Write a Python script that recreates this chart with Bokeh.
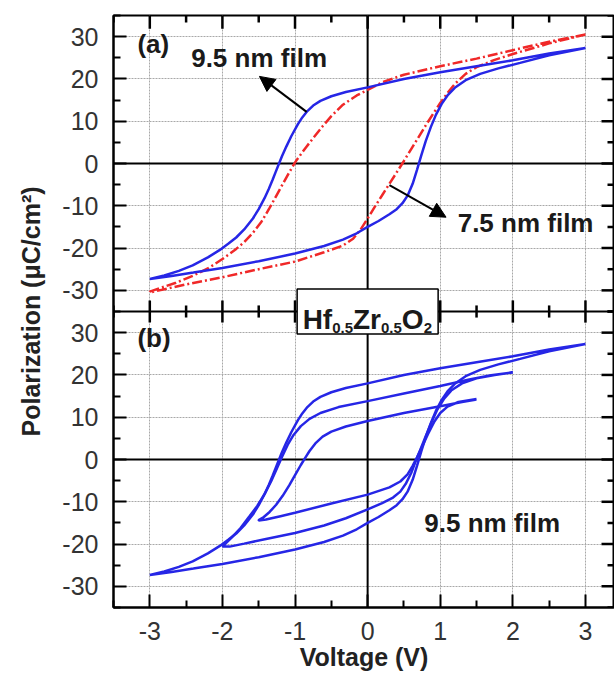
import numpy as np
from bokeh.plotting import figure
from bokeh.models import Range1d, FixedTicker, Span, Arrow, NormalHead
from bokeh.core.properties import value
from bokeh.embed import file_html
from bokeh.resources import INLINE

# ---------------- data ----------------
x_major = [-3, -2, -1, 0, 1, 2, 3]
x_minor = [-3.5, -2.5, -1.5, -0.5, 0.5, 1.5, 2.5, 3.5]
y_major = [-30, -20, -10, 0, 10, 20, 30]
y_minor = [-35, -25, -15, -5, 5, 15, 25, 35]
YLIM = 35
XLIM = (-3.5, 3.4)

# panel (a): 9.5 nm film (blue, solid) - upper branch (+3 -> -3), lower branch (-3 -> +3)
a95_up_v = [3.0, 2.5, 2.0, 1.5, 1.0, 0.5, 0.0, -0.3, -0.5, -0.65, -0.75, -0.83, -0.9, -0.96,
            -1.05, -1.12, -1.18, -1.22, -1.27, -1.31, -1.36, -1.42, -1.5, -1.58, -1.7, -1.81,
            -1.92, -2.04, -2.2, -2.41, -2.6, -2.8, -3.0]
a95_up_p = [27.3, 26.0, 24.4, 23.0, 21.6, 20.0, 18.0, 16.9, 15.9, 14.8, 13.7, 12.4, 10.9, 9.3,
            6.5, 4.0, 1.7, 0.0, -2.15, -3.9, -5.95, -8.2, -10.8, -13.0, -15.6, -17.5,
            -19.0, -20.5, -22.2, -24.1, -25.4, -26.5, -27.3]
a95_lo_v = [-3.0, -2.7, -2.4, -2.0, -1.5, -1.0, -0.6, -0.34, -0.15, 0.0, 0.15, 0.3, 0.4, 0.48,
            0.55, 0.62, 0.68, 0.74, 0.8, 0.87, 0.94, 1.02, 1.1, 1.2, 1.35, 1.55, 1.8, 2.1, 2.5,
            3.0]
a95_lo_p = [-27.3, -26.6, -25.8, -24.7, -23.1, -21.3, -19.5, -18.0, -16.5, -15.0, -13.6, -12.0,
            -10.8, -9.4, -7.6, -4.8, -1.5, 2.0, 5.3, 8.6, 11.5, 14.1, 16.1, 17.9, 19.7, 21.2,
            22.5, 23.8, 25.6, 27.3]

# panel (a): 7.5 nm film (red, dash-dot)
a75_up_v = [3.0, 2.5, 2.0, 1.5, 1.0, 0.5, 0.2, 0.0, -0.15, -0.34, -0.5, -0.62, -0.75, -0.85,
            -0.99, -1.08, -1.17, -1.26, -1.35, -1.46, -1.58, -1.7, -1.81, -2.0, -2.18, -2.4,
            -2.64, -2.85, -3.0]
a75_up_p = [30.5, 28.8, 26.8, 24.8, 23.0, 21.0, 19.2, 17.4, 16.1, 13.9, 11.2, 8.8, 6.0, 3.8,
            0.5, -2.1, -4.9, -7.7, -10.5, -13.7, -16.4, -18.6, -20.2, -22.6, -24.6, -26.5,
            -28.2, -29.4, -30.3]
a75_lo_v = [-3.0, -2.5, -2.0, -1.5, -1.0, -0.6, -0.34, -0.2, -0.1, 0.0, 0.1, 0.2, 0.3, 0.4,
            0.5, 0.6, 0.7, 0.8, 0.9, 1.0, 1.1, 1.2, 1.35, 1.5, 1.75, 2.0, 2.5, 3.0]
a75_lo_p = [-30.5, -28.6, -26.9, -25.0, -23.2, -21.0, -19.4, -17.8, -15.7, -13.0, -10.2, -7.5,
            -4.8, -2.1, 0.6, 3.4, 6.2, 9.0, 11.7, 14.3, 16.7, 18.8, 21.2, 22.8, 24.5, 25.9,
            28.4, 30.5]

# panel (b): 9.5 nm film, loops at +-3 V (same data as above), +-2 V and +-1.5 V
b2_up_v = [2.0, 1.7, 1.4, 1.0, 0.5, 0.0, -0.4, -0.65, -0.8, -0.92, -1.02, -1.1, -1.18, -1.25,
           -1.33, -1.42, -1.52, -1.63, -1.75, -1.87, -2.0]
b2_up_p = [20.6, 19.9, 18.9, 17.4, 15.6, 13.8, 12.4, 11.0, 9.6, 7.9, 5.8, 3.5, 0.6, -2.1,
           -5.2, -8.2, -11.0, -13.5, -16.2, -18.4, -20.6]
b2_lo_v = [-2.0, -1.9, -1.7, -1.4, -1.0, -0.6, -0.3, 0.0, 0.2, 0.35, 0.45, 0.53, 0.6, 0.66,
           0.73, 0.8, 0.88, 0.96, 1.05, 1.15, 1.3, 1.5, 1.75, 2.0]
b2_lo_p = [-20.6, -20.6, -19.9, -18.8, -17.4, -15.6, -13.9, -11.8, -10.3, -9.0, -7.6, -5.6,
           -3.2, -0.5, 2.5, 5.5, 8.8, 11.8, 14.3, 16.3, 18.0, 19.2, 20.0, 20.6]

b15_up_v = [1.5, 1.3, 1.0, 0.5, 0.0, -0.3, -0.5, -0.62, -0.72, -0.8, -0.86, -0.92, -0.99,
            -1.08, -1.17, -1.26, -1.35, -1.43, -1.5]
b15_up_p = [14.2, 13.6, 12.6, 11.0, 9.1, 7.8, 6.6, 5.4, 3.8, 2.0, 0.4, -1.3, -3.4,
            -6.1, -8.6, -10.7, -12.4, -13.6, -14.3]
b15_lo_v = [-1.5, -1.4, -1.2, -1.0, -0.5, 0.0, 0.3, 0.45, 0.55, 0.62, 0.68, 0.75, 0.83, 0.92,
            1.0, 1.1, 1.25, 1.5]
b15_lo_p = [-14.4, -14.2, -13.4, -12.6, -10.4, -8.3, -6.6, -5.2, -3.5, -1.5, 0.5, 3.0, 6.0,
            9.0, 11.0, 12.5, 13.6, 14.3]

# ---------------- figure ----------------
FONT = "Liberation Sans"
BLUE = "#2626e6"
RED = "#f02828"
W, H = 614, 673
LEFT, TOP, BOTTOM = 113, 15, 72          # frame borders in pixels (bottom is the axis' own size)

p = figure(width=W, height=H, output_backend="svg", toolbar_location=None,
           x_range=Range1d(*XLIM), y_range=Range1d(-2 * YLIM, 2 * YLIM),
           min_border_left=LEFT, min_border_top=TOP, min_border_right=0, min_border_bottom=0)
# panel (a) occupies the upper half of the frame, panel (b) the lower half
p.extra_y_ranges = {"a": Range1d(-3 * YLIM, YLIM), "b": Range1d(-YLIM, 3 * YLIM)}
p.background_fill_color = "white"
p.border_fill_color = "white"
p.outline_line_color = "black"
p.outline_line_width = 2

main_major = [v + YLIM for v in y_major] + [v - YLIM for v in y_major]
main_minor = sorted(set([v + YLIM for v in y_minor] + [v - YLIM for v in y_minor]))
y_overrides = {}
for v in y_major:
    y_overrides[v + YLIM] = str(v)
    y_overrides[v - YLIM] = str(v)
x_overrides = {v: str(v) for v in x_major}
xticker = FixedTicker(ticks=x_major, minor_ticks=x_minor)
yticker = FixedTicker(ticks=main_major, minor_ticks=main_minor)


def style_axis(ax):
    ax.axis_line_color = "black"
    ax.axis_line_width = 2
    ax.major_tick_in = 13
    ax.major_tick_out = 0
    ax.minor_tick_in = 7
    ax.minor_tick_out = 0
    ax.major_tick_line_width = 2
    ax.minor_tick_line_width = 2
    ax.major_tick_line_color = "black"
    ax.minor_tick_line_color = "black"
    ax.major_label_text_font = FONT
    ax.major_label_text_font_size = "25px"
    ax.major_label_text_color = "#333333"
    ax.axis_label_text_font = FONT
    ax.axis_label_text_font_size = "25px"
    ax.axis_label_text_font_style = "bold"
    ax.axis_label_text_color = "#222222"


xb = p.xaxis[0]
xb.ticker = xticker
xb.major_label_overrides = x_overrides
style_axis(xb)
xb.major_label_standoff = 14
xb.axis_label = "Voltage (V)"
xb.axis_label_standoff = 0

yl = p.yaxis[0]
yl.ticker = yticker
yl.major_label_overrides = y_overrides
style_axis(yl)
yl.major_label_standoff = 15
yl.axis_label = "Polarization (\u03bcC/cm\u00b2)"
yl.axis_label_standoff = 14

p.xgrid.ticker = xticker
p.ygrid.ticker = FixedTicker(ticks=main_major)
for g in (p.xgrid[0], p.ygrid[0]):
    g.grid_line_color = "#a8a8a8"
    g.grid_line_dash = "2 1"
    g.grid_line_width = 1

# zero lines and panel separator
for rn in ("a", "b"):
    p.add_layout(Span(location=0, dimension="width", y_range_name=rn, line_color="black",
                      line_width=2, level="underlay"))
p.add_layout(Span(location=-YLIM, dimension="width", y_range_name="a", line_color="black",
                  line_width=2, level="underlay"))
p.add_layout(Span(location=0, dimension="height", line_color="black", line_width=2,
                  level="underlay"))

# ---------------- curves ----------------
p.line(a75_up_v + a75_lo_v, a75_up_p + a75_lo_p, y_range_name="a", line_color=RED,
       line_width=2.5, line_dash="10 3 2 3")
p.line(a95_up_v + a95_lo_v, a95_up_p + a95_lo_p, y_range_name="a", line_color=BLUE,
       line_width=2.5)

p.line(a95_up_v + a95_lo_v, a95_up_p + a95_lo_p, y_range_name="b", line_color=BLUE,
       line_width=2.5)
p.line(b2_up_v + b2_lo_v, b2_up_p + b2_lo_p, y_range_name="b", line_color=BLUE, line_width=2.5)
p.line(b15_up_v + b15_lo_v, b15_up_p + b15_lo_p, y_range_name="b", line_color=BLUE,
       line_width=2.5)

# inward ticks on the top frame, crossing ticks on the separator, inward ticks on the right
# (tick lengths in pixels, converted to data units of the frame)
uy = 4 * YLIM / (H - TOP - BOTTOM)          # data units per pixel, vertical
ux = (XLIM[1] - XLIM[0]) / (W - LEFT)        # data units per pixel, horizontal
seg = dict(line_color="black", line_width=2.5)
for ticks, ln in ((x_major, 13), (x_minor, 7)):
    n = len(ticks)
    p.segment(x0=ticks, y0=[YLIM] * n, x1=ticks, y1=[YLIM - ln * uy] * n, y_range_name="a", **seg)
for ticks, ln in ((x_major, 11), (x_minor, 6)):
    n = len(ticks)
    p.segment(x0=ticks, y0=[-YLIM - ln * uy] * n, x1=ticks, y1=[-YLIM + ln * uy] * n,
              y_range_name="a", **seg)
for rn in ("a", "b"):
    for ticks, ln in ((y_major, 13), (y_minor, 7)):
        n = len(ticks)
        p.segment(x0=[XLIM[1]] * n, y0=ticks, x1=[XLIM[1] - ln * ux] * n, y1=ticks,
                  y_range_name=rn, **seg)

# ---------------- annotations ----------------
txt = dict(text_font=value(FONT), text_font_style="bold", text_font_size="26px",
           text_baseline="middle", text_align="left", text_color="#1a1a1a")
p.text(x=[-3.17, -2.43, 1.24], y=[28.3, 25.0, -14.0], text=["(a)", "9.5 nm film", "7.5 nm film"],
       y_range_name="a", **txt)
p.text(x=[-3.17, 0.78], y=[28.8, -15.0], text=["(b)", "9.5 nm film"], y_range_name="b", **txt)

head = dict(size=15, fill_color="black", line_color="black")
p.add_layout(Arrow(end=NormalHead(**head), x_start=-0.84, y_start=12.2, x_end=-1.49, y_end=20.6,
                   y_range_name="a", line_width=2, line_color="black"))
p.add_layout(Arrow(end=NormalHead(**head), x_start=0.30, y_start=-5.1, x_end=1.08, y_end=-12.7,
                   y_range_name="a", line_width=2, line_color="black"))

# Hf0.5Zr0.5O2 box on the separator
p.rect(x=[0], y=[-YLIM], width=141, height=45, width_units="screen", height_units="screen",
       y_range_name="a", fill_color="white", line_color="black", line_width=1.5)
formula = ["Hf", "0.5", "Zr", "0.5", "O", "2"]
is_sub = [False, True, False, True, False, True]
em = {"Hf": 1.055, "Zr": 1.0, "O": 0.778, "0.5": 1.39, "2": 0.556}
xoff = -65
for piece, sub in zip(formula, is_sub):
    size = 15 if sub else 28
    p.text(x=[0], y=[-YLIM], text=[piece], y_range_name="a", text_font=value(FONT),
           text_font_style="bold", text_font_size=f"{size}px", text_baseline="alphabetic",
           text_align="left", text_color="#1a1a1a", x_offset=xoff,
           y_offset=16 if sub else 8)
    xoff += em[piece] * size

open("out.html", "w").write(file_html(p, INLINE))
